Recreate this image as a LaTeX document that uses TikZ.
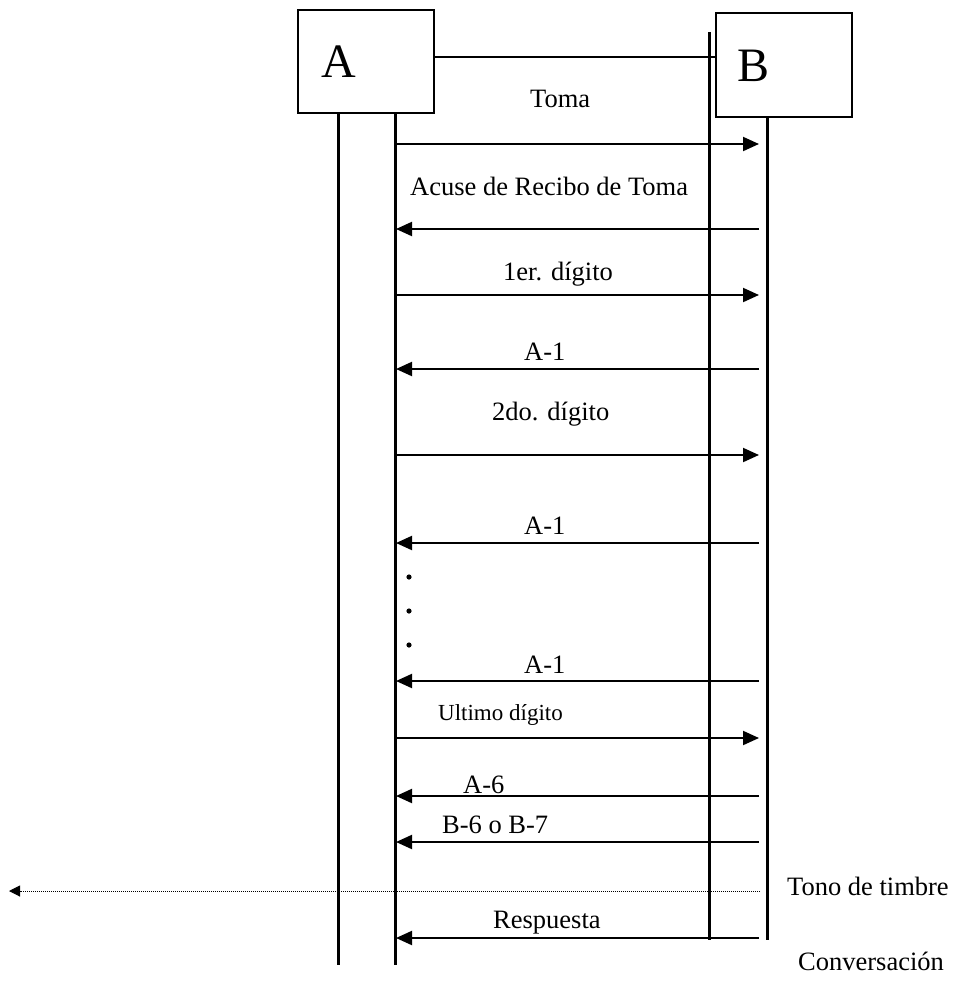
\documentclass[tikz,border=0pt]{standalone}
\usepackage{fontspec}
\setmainfont{Liberation Serif}
\usetikzlibrary{arrows.meta}
\begin{document}
\begin{tikzpicture}[x=1pt,y=-1pt,
  box/.style={draw,line width=2.8pt,inner sep=0pt},
  lifeline/.style={line width=3pt},
  msg/.style={line width=2pt,-{Triangle[length=16pt,width=14pt]}},
  ring/.style={line width=1pt,dash pattern=on 1pt off 1pt,-{Triangle[length=11pt,width=11pt]}},
  lbl/.style={anchor=base west,inner sep=0pt,font=\fontsize{26.5}{30}\selectfont},
  lblsmall/.style={anchor=base west,inner sep=0pt,font=\fontsize{23}{27}\selectfont},
  big/.style={inner sep=0pt,font=\fontsize{48}{52}\selectfont}]
\useasboundingbox (0,0) rectangle (954,986);

% exchange boxes
\node[box,minimum width=136pt,minimum height=103pt] (A) at (366,61.5) {};
\node[box,minimum width=136pt,minimum height=104pt] (B) at (784,65) {};
\node[big] (Alab) at (339,62) {A};
\node[big] (Blab) at (754,66) {B};

% link between the exchanges
\draw[line width=1.5pt] (A.east |- 0,57) -- (B.west |- 0,57);

% lifelines
\coordinate (a1top) at (338,113); \coordinate (a1bot) at (338,965);
\coordinate (a2top) at (395,113); \coordinate (a2bot) at (395,965);
\coordinate (b1top) at (709,32);  \coordinate (b1bot) at (709,940);
\coordinate (b2top) at (767,117); \coordinate (b2bot) at (767,940);
\draw[lifeline] (a1top) -- (a1bot);
\draw[lifeline] (a2top) -- (a2bot);
\draw[lifeline] (b1top) -- (b1bot);
\draw[lifeline] (b2top) -- (b2bot);

% message end points: A side (sa) and B side (sb)
\foreach \n/\y in {1/144,2/229,3/295,4/369,5/455,6/543,7/681,8/738,9/796,10/842,11/938}{
  \coordinate (sa\n) at (396,\y);
  \coordinate (sb\n) at (759,\y);
}

% forward signals A -> B
\draw[msg] (sa1) -- (sb1);
\draw[msg] (sa3) -- (sb3);
\draw[msg] (sa5) -- (sb5);
\draw[msg] (sa8) -- (sb8);
% backward signals B -> A
\draw[msg] (sb2) -- (sa2);
\draw[msg] (sb4) -- (sa4);
\draw[msg] (sb6) -- (sa6);
\draw[msg] (sb7) -- (sa7);
\draw[msg] (sb9) -- (sa9);
\draw[msg] (sb10) -- (sa10);
\draw[msg] (sb11) -- (sa11);

% ringing tone back to the caller
\coordinate (ringB) at (760,891);
\coordinate (ringA) at (9,891);
\draw[ring] (ringB) -- (ringA);

% labels
\node[lbl] (t1) at (530,107) {Toma};
\node[lbl] (t2) at (410,195) {Acuse de Recibo de Toma};
\node[lbl] (t3) at (503,280) {1er. dígito};
\node[lbl] (t4) at (524,360) {A-1};
\node[lbl] (t5) at (492,420) {2do. dígito};
\node[lbl] (t6) at (524,534) {A-1};
\node[lbl] (t7) at (524,673) {A-1};
\node[lblsmall] (t8) at (438,720) {Ultimo dígito};
\node[lbl] (t9) at (463,793) {A-6};
\node[lbl] (t10) at (442,833) {B-6 o B-7};
\node[lbl] (t11) at (493,928) {Respuesta};
\node[lbl] (t12) at (787,895) {Tono de timbre};
\node[lbl] (t13) at (798,970) {Conversación};

% ellipsis between digits
\foreach \n/\y in {1/577,2/611,3/645}{
  \fill (409,\y) circle (2.6pt) coordinate (dot\n);
}
\end{tikzpicture}
\end{document}
